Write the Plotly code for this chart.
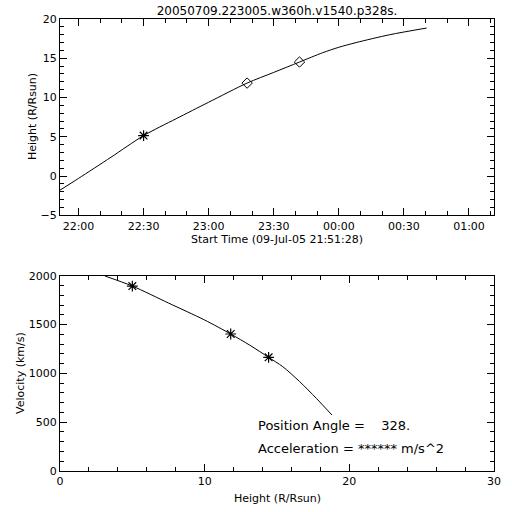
import plotly.graph_objects as go
from plotly.subplots import make_subplots

# Height-time fit curve
ht_time = ["2005-07-09 21:51:28", "2005-07-09 22:00:00", "2005-07-09 22:15:00",
           "2005-07-09 22:30:00", "2005-07-09 22:45:00", "2005-07-09 23:00:00",
           "2005-07-09 23:17:43", "2005-07-09 23:30:00", "2005-07-09 23:41:52",
           "2005-07-09 23:52:30", "2005-07-10 00:00:00", "2005-07-10 00:08:00",
           "2005-07-10 00:23:30", "2005-07-10 00:40:30"]
ht_height = [-1.8, -0.3, 2.4, 5.15, 7.3, 9.4, 11.84, 13.2, 14.52, 15.7, 16.4, 17.0,
             18.0, 18.85]

# Measured points
star_time = ["2005-07-09 22:30:00"]
star_height = [5.15]
diam_time = ["2005-07-09 23:17:43", "2005-07-09 23:41:52"]
diam_height = [11.84, 14.52]

# Velocity vs height
vel_height = [3.1, 5.0, 7.5, 10.0, 11.8, 13.1, 14.42, 15.4, 16.57, 17.72, 18.8]
vel_value = [1997, 1894, 1720, 1546, 1403, 1290, 1164, 1068, 915, 744, 573]
vpt_height = [5.0, 11.8, 14.42]
vpt_value = [1894, 1403, 1164]

title_text = "20050709.223005.w360h.v1540.p328s."
pa_text = "Position Angle =\u00a0\u00a0\u00a0 328."
acc_text = "Acceleration = ****** m/s^2"
top_xtitle = "Start Time (09-Jul-05 21:51:28)"
top_ytitle = "Height (R/Rsun)"
bot_xtitle = "Height (R/Rsun)"
bot_ytitle = "Velocity (km/s)"

FONT = "DejaVu Sans"
H = 512
L, R = 60, 18
t, b = 19, 41
ph = H - t - b
pw = 512 - L - R


def px_x(px):
    return (px - L) / pw


def px_y(py):
    return (H - b - py) / ph


fig = make_subplots(rows=2, cols=1)
fig.update_layout(
    template="none",
    yaxis=dict(domain=[px_y(215.3), 1.0]),
    yaxis2=dict(domain=[0.0, px_y(275.7)]),
)

fig.add_trace(go.Scatter(x=ht_time, y=ht_height, mode="lines",
                         line=dict(color="black", width=1, shape="spline", smoothing=0.8)),
              row=1, col=1)
fig.add_trace(go.Scatter(x=star_time, y=star_height, mode="markers",
                         marker=dict(symbol="asterisk-open", size=9, color="black",
                                     line=dict(color="black", width=1.2))), row=1, col=1)
fig.add_trace(go.Scatter(x=diam_time, y=diam_height, mode="markers",
                         marker=dict(symbol="diamond-open", size=8, color="black",
                                     line=dict(color="black", width=1))), row=1, col=1)
fig.add_trace(go.Scatter(x=vel_height, y=vel_value, mode="lines",
                         line=dict(color="black", width=1, shape="spline", smoothing=0.8)),
              row=2, col=1)
fig.add_trace(go.Scatter(x=vpt_height, y=vpt_value, mode="markers",
                         marker=dict(symbol="asterisk-open", size=9, color="black",
                                     line=dict(color="black", width=1.2))), row=2, col=1)

axis_common = dict(showline=True, linecolor="black", linewidth=1, mirror="allticks",
                   ticks="inside", ticklen=7, tickcolor="black", tickwidth=1,
                   showgrid=False, zeroline=False, automargin=False,
                   tickfont=dict(family=FONT, size=11, color="black"))

fig.update_xaxes(type="date", range=["2005-07-09 21:51:28", "2005-07-10 01:11:32"],
                 tick0="2005-07-09 22:00:00", dtick=1800000, tickformat="%H:%M",
                 minor=dict(ticks="inside", ticklen=4, dtick=600000,
                            tick0="2005-07-09 22:00:00", tickcolor="black", tickwidth=1),
                 **axis_common, row=1, col=1)
fig.update_yaxes(range=[-5, 20], tick0=0, dtick=5,
                 minor=dict(ticks="inside", ticklen=4, dtick=1, tickcolor="black", tickwidth=1),
                 **axis_common, row=1, col=1)
fig.update_xaxes(range=[0, 30], tick0=0, dtick=10,
                 minor=dict(ticks="inside", ticklen=4, dtick=2, tickcolor="black", tickwidth=1),
                 **axis_common, row=2, col=1)
fig.update_yaxes(range=[0, 2000], tick0=0, dtick=500,
                 minor=dict(ticks="inside", ticklen=4, dtick=100, tickcolor="black", tickwidth=1),
                 **axis_common, row=2, col=1)

lab_font = dict(family=FONT, size=11, color="black")
fig.add_annotation(x=px_x(277), y=px_y(239), xref="paper", yref="paper", text=top_xtitle,
                   showarrow=False, xanchor="center", yanchor="middle", font=lab_font)
fig.add_annotation(x=px_x(32), y=px_y(117), xref="paper", yref="paper", text=top_ytitle,
                   showarrow=False, xanchor="center", yanchor="middle", textangle=-90,
                   font=lab_font)
fig.add_annotation(x=px_x(277), y=px_y(498), xref="paper", yref="paper", text=bot_xtitle,
                   showarrow=False, xanchor="center", yanchor="middle", font=lab_font)
fig.add_annotation(x=px_x(20), y=px_y(373), xref="paper", yref="paper", text=bot_ytitle,
                   showarrow=False, xanchor="center", yanchor="middle", textangle=-90,
                   font=lab_font)

fig.add_annotation(x=13.52, y=471, xref="x2", yref="y2", text=pa_text, showarrow=False,
                   xanchor="left", yanchor="middle",
                   font=dict(family=FONT, size=13, color="black"))
fig.add_annotation(x=13.52, y=235, xref="x2", yref="y2", text=acc_text, showarrow=False,
                   xanchor="left", yanchor="middle",
                   font=dict(family=FONT, size=13, color="black"))

fig.update_layout(
    width=512, height=512,
    margin=dict(l=L, r=R, t=t, b=b, pad=0),
    paper_bgcolor="white", plot_bgcolor="white",
    showlegend=False,
    title=dict(text=title_text, x=(60 + 494) / 2 / 512, xanchor="center",
               y=1 - 11 / 512, yanchor="middle", yref="container",
               font=dict(family=FONT, size=12, color="black")),
)

fig.write_html("out.html", config={"displayModeBar": False},
               post_script="document.body.style.margin='0';")
